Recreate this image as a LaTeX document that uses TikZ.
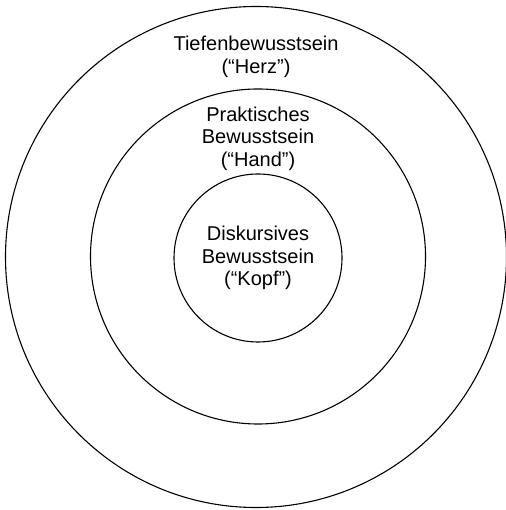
\documentclass[tikz,border=0pt]{standalone}
\usepackage{fontspec}
\setmainfont{Liberation Sans}
\usetikzlibrary{positioning}
\tikzset{
  ring/.style={circle, draw=black, line width=1.1pt, inner sep=0pt},
  caption/.style={align=center, inner sep=0pt, font=\fontsize{20}{22.5}\selectfont}
}

\begin{document}
\begin{tikzpicture}[x=1pt, y=1pt, node distance=1pt]

  \useasboundingbox (0,0) rectangle (505,510);

  \node (herz) [ring, minimum size=501] at (256,253) {};
  \node (hand) [ring, minimum size=335] at (258,253.5) {};
  \node (kopf) [ring, minimum size=168] at (258,252) {};

  \node (herztext) [caption, below=30pt of herz.north] {Tiefenbewusstsein\\(“Herz”)};
  \node (handtext) [caption, below=18pt of hand.north] {Praktisches\\Bewusstsein\\(“Hand”)};
  \node (kopftext) [caption] at (kopf.center) {Diskursives\\Bewusstsein\\(“Kopf”)};

\end{tikzpicture}
\end{document}
